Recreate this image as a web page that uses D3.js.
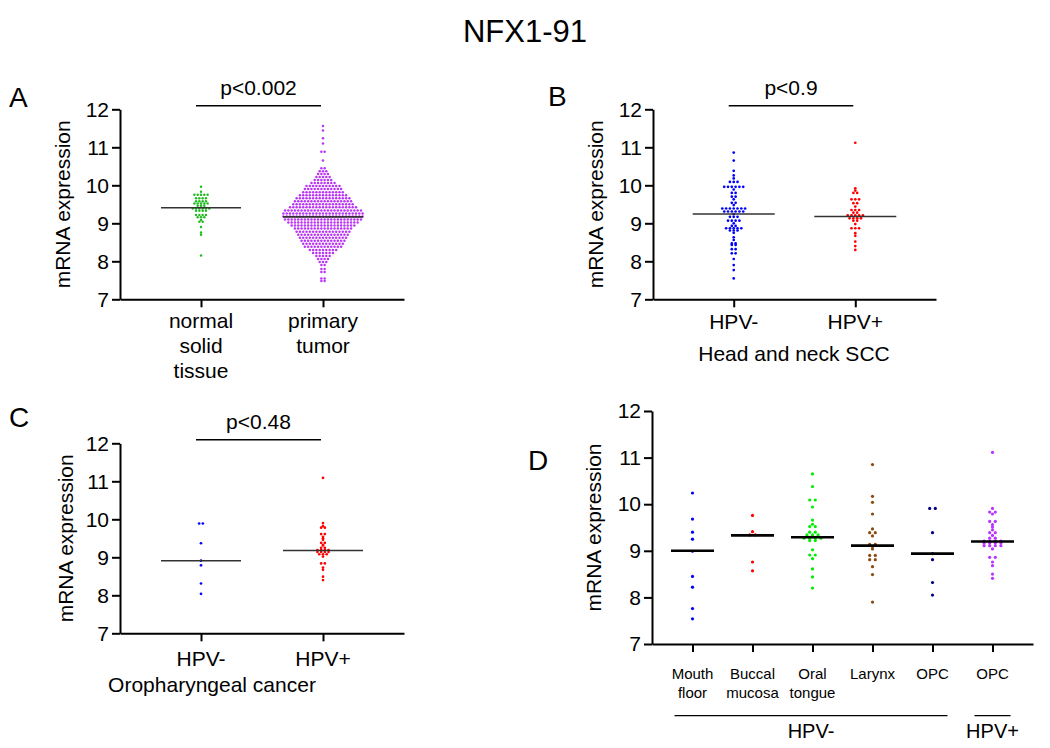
<!DOCTYPE html>
<html><head><meta charset="utf-8">
<script src="https://cdn.jsdelivr.net/npm/d3@7"></script>
<style>
body{margin:0;background:#fff}
svg{display:block}
text{font-family:"Liberation Sans",Arial,sans-serif;fill:#000}
</style>
</head><body>
<svg id="chart" width="1050" height="748"></svg>
<script>
// ---------------- DATA ----------------
const title = "NFX1-91";
const yLabel = "mRNA expression";
const yTickValues = [7, 8, 9, 10, 11, 12];

// Panel A (rows: [value, number of dots in that row])
const aCategories = ["normal", "primary"];
const aTickLabels = [["normal", "solid", "tissue"], ["primary", "tumor"]];
const aNormalRows = [[9.96,1],[9.83,1],[9.75,5],[9.66,4],[9.58,4],[9.52,5],[9.46,3],[9.39,6],[9.33,4],[9.22,4],[9.16,3],[9.09,1],[9.04,2],[8.90,1],[8.76,1],[8.70,1],[8.15,1]];
const aTumorRows = [[11.56,1],[11.44,1],[11.24,1],[11.10,1],[10.88,2],[10.65,1],[10.45,2],[10.37,3],[10.30,4],[10.22,5],[10.14,6],[10.06,8],[9.98,11],[9.90,12],[9.82,13],[9.74,15],[9.66,17],[9.58,18],[9.50,19],[9.42,21],[9.34,24],[9.26,25],[9.18,25],[9.10,24],[9.02,22],[8.94,20],[8.86,18],[8.78,17],[8.70,16],[8.62,15],[8.54,14],[8.46,13],[8.38,12],[8.30,9],[8.22,7],[8.14,5],[8.06,4],[7.98,3],[7.90,2],[7.80,2],[7.72,2],[7.55,2],[7.48,2]];
const aMedians = [9.41, 9.17];
const aPValue = "p<0.002";

// Panel B
const bCategories = ["HPV-", "HPV+"];
const bHpvNeg = [10.86,10.65,10.38,10.26,10.18,10.09,10.09,10.09,9.96,9.96,9.96,9.96,9.96,9.96,9.89,9.80,9.80,9.70,9.70,9.63,9.54,9.54,9.48,9.39,9.39,9.39,9.39,9.39,9.39,9.39,9.31,9.31,9.31,9.31,9.31,9.31,9.24,9.17,9.17,9.17,9.07,9.07,9.07,9.07,9.00,8.93,8.93,8.87,8.87,8.87,8.87,8.87,8.81,8.81,8.81,8.75,8.63,8.56,8.47,8.47,8.43,8.43,8.32,8.32,8.21,8.21,8.06,7.90,7.77,7.55];
const bHpvPos = [11.12,9.92,9.86,9.80,9.80,9.63,9.63,9.63,9.53,9.53,9.44,9.35,9.35,9.35,9.28,9.28,9.21,9.21,9.21,9.21,9.21,9.13,9.13,9.13,9.13,9.07,9.07,8.98,8.87,8.87,8.87,8.74,8.67,8.52,8.40,8.30];
const bMedians = [9.245, 9.18];
const bPValue = "p<0.9";
const bGroupLabel = "Head and neck SCC";

// Panel C
const cCategories = ["HPV-", "HPV+"];
const cHpvNeg = [9.89,9.89,9.37,8.91,8.79,8.31,8.04];
const cHpvPos = [11.09,9.90,9.82,9.78,9.78,9.61,9.61,9.54,9.50,9.46,9.38,9.38,9.33,9.31,9.25,9.25,9.19,9.19,9.19,9.19,9.14,9.14,9.14,9.14,9.08,9.08,9.08,9.02,8.84,8.84,8.73,8.67,8.49,8.40];
const cMedians = [8.91, 9.18];
const cPValue = "p<0.48";
const cGroupLabel = "Oropharyngeal cancer";

// Panel D
const dCategories = ["mouthFloor", "buccal", "oralTongue", "larynx", "opcNeg", "opcPos"];
const dTickLabels = [["Mouth","floor"],["Buccal","mucosa"],["Oral","tongue"],["Larynx"],["OPC"],["OPC"]];
const dMouthFloor = [10.24,9.68,9.40,9.25,8.99,8.45,8.22,7.76,7.54];
const dBuccal = [9.76,9.41,9.34,9.34,8.76,8.57];
const dOralTongue = [10.65,10.38,10.09,10.09,9.94,9.66,9.57,9.52,9.52,9.40,9.40,9.34,9.34,9.34,9.27,9.27,9.27,9.27,9.22,9.22,9.02,8.91,8.91,8.83,8.61,8.44,8.20];
const dLarynx = [10.85,10.17,10.04,9.79,9.47,9.39,9.39,9.32,9.14,9.14,9.09,9.04,8.90,8.90,8.81,8.81,8.66,8.49,7.90];
const dOpcNeg = [9.91,9.91,9.39,8.94,8.81,8.32,8.05];
const dOpcPos = [11.11,9.91,9.83,9.83,9.79,9.63,9.63,9.56,9.51,9.45,9.39,9.39,9.33,9.27,9.27,9.21,9.21,9.21,9.21,9.17,9.17,9.17,9.17,9.11,9.11,9.11,9.11,9.04,8.86,8.86,8.76,8.68,8.50,8.41];
const dMedians = [9.00, 9.33, 9.29, 9.11, 8.94, 9.20];
const dGroups = [{label:"HPV-", from:"mouthFloor", to:"opcNeg"}, {label:"HPV+", from:"opcPos", to:"opcPos"}];

// ---------------- DRAWING ----------------
const svg = d3.select("#chart");
const FONT = "'Liberation Sans', Arial, sans-serif";

svg.append("text").attr("x", 525).attr("y", 42).attr("text-anchor","middle")
  .attr("font-size", 31).text(title);

function rowsToValues(rows){ const out=[]; rows.forEach(([v,n])=>{for(let i=0;i<n;i++) out.push(v);}); return out; }

function swarm(values, spacing){
  const groups = d3.groups(values, v=>v);
  const pts=[];
  groups.forEach(([v, arr])=>{
    const n=arr.length;
    arr.forEach((_,i)=>pts.push({v, dx:(i-(n-1)/2)*spacing}));
  });
  return pts;
}

function styleAxis(g, fs){
  g.attr("font-family", FONT).attr("font-size", fs);
  g.selectAll("path, line").attr("stroke","#000").attr("stroke-width",2);
  g.selectAll("text").attr("fill","#000");
}

function panel(cfg){
  const g = svg.append("g");
  const y = d3.scaleLinear().domain([7,12]).range([cfg.yBottom, cfg.yTop]);
  const x = d3.scalePoint().domain(cfg.categories).range([cfg.xLeft, cfg.xRight]).padding(cfg.padding);

  g.append("g").attr("transform",`translate(${cfg.xLeft},0)`)
    .call(d3.axisLeft(y).tickValues(yTickValues).tickFormat(d3.format("d")).tickSize(8).tickSizeOuter(0).tickPadding(3))
    .call(a=>styleAxis(a, cfg.tickFs));
  g.append("g").attr("transform",`translate(0,${cfg.yBottom})`)
    .call(d3.axisBottom(x).tickSize(8).tickSizeOuter(0).tickFormat(""))
    .call(a=>styleAxis(a, cfg.tickFs));

  g.append("text").attr("transform",`translate(${cfg.yLabelX},${(cfg.yTop+cfg.yBottom)/2}) rotate(-90)`)
    .attr("text-anchor","middle").attr("font-size", cfg.labelFs).text(yLabel);

  g.append("text").attr("x", cfg.letterX).attr("y", cfg.letterY).attr("font-size", 28).text(cfg.letter);

  cfg.series.forEach((s,i)=>{
    const pts = swarm(s.values, cfg.spacing);
    g.append("g").selectAll("circle").data(pts).join("circle")
      .attr("cx", d=>x(cfg.categories[i]) + d.dx)
      .attr("cy", d=>y(d.v))
      .attr("r", cfg.r)
      .attr("fill", s.color);
  });

  g.append("g").selectAll("line").data(cfg.medians).join("line")
    .attr("x1",(d,i)=>x(cfg.categories[i]) - cfg.medHalf)
    .attr("x2",(d,i)=>x(cfg.categories[i]) + cfg.medHalf)
    .attr("y1", d=>y(d)).attr("y2", d=>y(d))
    .attr("stroke", cfg.medColor).attr("stroke-width", cfg.medWidth);

  cfg.tickLabels.forEach((lines,i)=>{
    const t = g.append("text").attr("text-anchor","middle").attr("font-size", cfg.catFs)
      .attr("x", x(cfg.categories[i])).attr("y", cfg.catY);
    lines.forEach((ln,j)=>t.append("tspan").attr("x", x(cfg.categories[i])).attr("dy", j===0?0:cfg.catLine).text(ln));
  });

  if (cfg.pValue){
    const x1 = x(cfg.categories[0]) - 5, x2 = x(cfg.categories[1]) - 2;
    g.append("line").attr("x1",x1).attr("x2",x2).attr("y1",cfg.yTop-3.5).attr("y2",cfg.yTop-3.5)
      .attr("stroke","#000").attr("stroke-width",1.6);
    g.append("text").attr("x",(x1+x2)/2).attr("y",cfg.yTop-14).attr("text-anchor","middle")
      .attr("font-size", cfg.labelFs).text(cfg.pValue);
  }
  if (cfg.groupLabel){
    g.append("text").attr("x", cfg.groupLabelX).attr("y", cfg.groupLabelY).attr("text-anchor","middle")
      .attr("font-size", cfg.labelFs).text(cfg.groupLabel);
  }
  return {g, x, y};
}

panel({letter:"A", letterX:9, letterY:107, categories:aCategories, tickLabels:aTickLabels,
  xLeft:120, xRight:404, padding:0.664, yTop:109.3, yBottom:299.3, yLabelX:70,
  tickFs:21, labelFs:21, catFs:21, catY:328, catLine:25,
  series:[{values:rowsToValues(aNormalRows), color:"#22bb22"},{values:rowsToValues(aTumorRows), color:"#b934f5"}],
  spacing:3.3, r:1.25, medians:aMedians, medHalf:40, medColor:"#333", medWidth:1.6, pValue:aPValue});

panel({letter:"B", letterX:548, letterY:106, categories:bCategories, tickLabels:bCategories.map(c=>[c]),
  xLeft:653, xRight:936, padding:0.664, yTop:109.3, yBottom:299.3, yLabelX:603,
  tickFs:21, labelFs:21, catFs:21, catY:329, catLine:25,
  series:[{values:bHpvNeg, color:"#0000ff"},{values:bHpvPos, color:"#ff0000"}],
  spacing:3.8, r:1.35, medians:bMedians, medHalf:41, medColor:"#333", medWidth:1.6, pValue:bPValue,
  groupLabel:bGroupLabel, groupLabelX:794, groupLabelY:361});

panel({letter:"C", letterX:9, letterY:427, categories:cCategories, tickLabels:cCategories.map(c=>[c]),
  xLeft:120, xRight:404, padding:0.664, yTop:443.3, yBottom:633.3, yLabelX:73,
  tickFs:21, labelFs:21, catFs:21, catY:666, catLine:25,
  series:[{values:cHpvNeg, color:"#0000ff"},{values:cHpvPos, color:"#ff0000"}],
  spacing:3.7, r:1.35, medians:cMedians, medHalf:40, medColor:"#333", medWidth:1.6, pValue:cPValue,
  groupLabel:cGroupLabel, groupLabelX:212, groupLabelY:692});

const dp = panel({letter:"D", letterX:528, letterY:470, categories:dCategories, tickLabels:dTickLabels,
  xLeft:652, xRight:1033, padding:0.675, yTop:411, yBottom:644, yLabelX:601,
  tickFs:21, labelFs:21, catFs:15, catY:679, catLine:19,
  series:[{values:dMouthFloor,color:"#0000ff"},{values:dBuccal,color:"#ff0000"},{values:dOralTongue,color:"#00ee00"},
          {values:dLarynx,color:"#8b4a10"},{values:dOpcNeg,color:"#000080"},{values:dOpcPos,color:"#bb33ff"}],
  spacing:5.6, r:1.6, medians:dMedians, medHalf:21.5, medColor:"#000", medWidth:2.6});

dGroups.forEach(gr=>{
  const x1 = dp.x(gr.from) - 18, x2 = dp.x(gr.to) + (gr.from===gr.to ? 18 : 15);
  svg.append("line").attr("x1",x1).attr("x2",x2).attr("y1",715.7).attr("y2",715.7)
    .attr("stroke","#000").attr("stroke-width",1.3);
  svg.append("text").attr("x",(x1+x2)/2).attr("y",738).attr("text-anchor","middle")
    .attr("font-size",20).text(gr.label);
});
</script>
</body></html>
